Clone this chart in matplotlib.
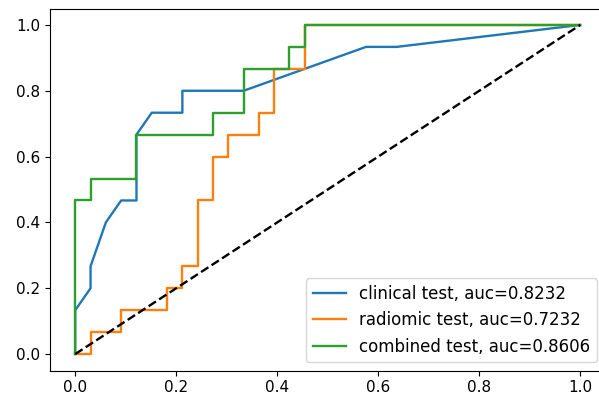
import numpy as np
import matplotlib
matplotlib.use('Agg')
import matplotlib.pyplot as plt

# ROC points (33 negatives, 15 positives)
n_neg = 33
n_pos = 15

clinical_fpr = [0, 0, 1, 1, 2, 3, 4, 4, 5, 7, 7, 11, 19, 21, 33]
clinical_tpr = [0, 2, 3, 4, 6, 7, 7, 10, 11, 11, 12, 12, 14, 14, 15]

radiomic_fpr = [0, 1, 1, 3, 3, 6, 6, 7, 7, 8, 8, 9, 9, 10, 10, 12, 12, 13, 13, 15, 15, 33]
radiomic_tpr = [0, 0, 1, 1, 2, 2, 3, 3, 4, 4, 7, 7, 9, 9, 10, 10, 11, 11, 13, 13, 15, 15]

combined_fpr = [0, 0, 1, 1, 4, 4, 9, 9, 11, 11, 14, 14, 15, 15, 33]
combined_tpr = [0, 7, 7, 8, 8, 10, 10, 11, 11, 13, 13, 14, 14, 15, 15]

labels = ['clinical test, auc=0.8232', 'radiomic test, auc=0.7232', 'combined test, auc=0.8606']

fig = plt.figure(figsize=(5.99, 3.99), dpi=100)
ax = fig.add_axes([50 / 599, 28.5 / 399, 555.5 / 599, 362 / 399])

curves = [(clinical_fpr, clinical_tpr), (radiomic_fpr, radiomic_tpr), (combined_fpr, combined_tpr)]
for (fpr, tpr), lab in zip(curves, labels):
    ax.plot(np.array(fpr) / n_neg, np.array(tpr) / n_pos, label=lab, lw=1.7)

ax.plot([0, 1], [0, 1], 'k--', lw=1.7)
ax.tick_params(labelsize=11)
ax.legend(loc='lower right', fontsize=12)

plt.savefig('out.png', dpi=100)
